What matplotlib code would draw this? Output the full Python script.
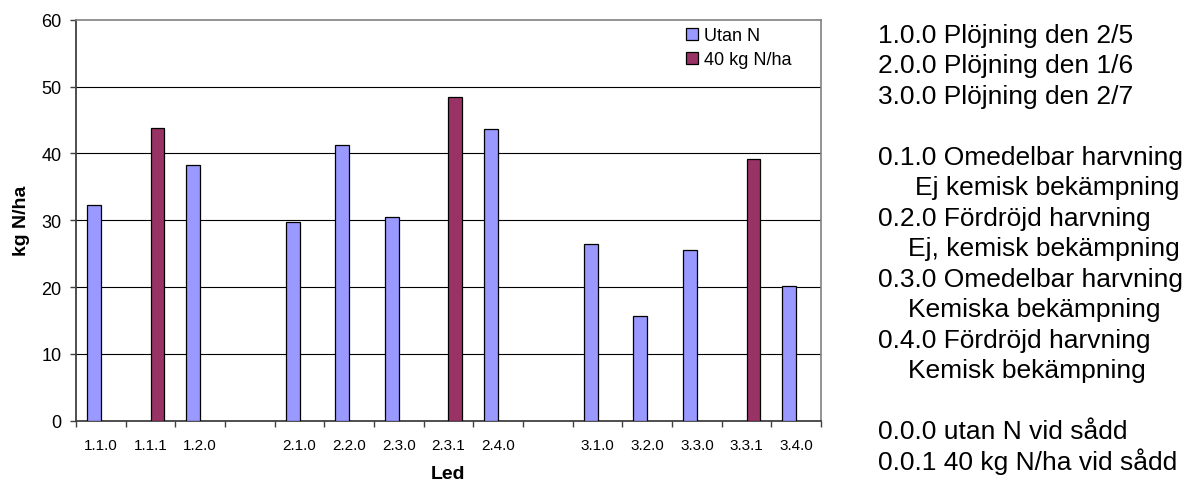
import numpy as np
import matplotlib
matplotlib.use("Agg")
import matplotlib.pyplot as plt
from matplotlib.patches import Patch

plt.rcParams['font.family'] = ['Liberation Sans', 'DejaVu Sans']

categories = ["1.1.0", "1.1.1", "1.2.0", "", "2.1.0", "2.2.0", "2.3.0", "2.3.1",
              "2.4.0", "", "3.1.0", "3.2.0", "3.3.0", "3.3.1", "3.4.0"]
utan_n = [32.3, np.nan, 38.2, np.nan, 29.8, 41.2, 30.5, np.nan,
          43.6, np.nan, 26.4, 15.6, 25.5, np.nan, 20.1]
med_n = [np.nan, 43.8, np.nan, np.nan, np.nan, np.nan, np.nan, 48.4,
         np.nan, np.nan, np.nan, np.nan, np.nan, 39.2, np.nan]
series_names = ["Utan N", "40 kg N/ha"]
y_ticks = [0, 10, 20, 30, 40, 50, 60]

side_text = [
    (0, 0, "1.0.0 Plöjning den 2/5"),
    (1, 0, "2.0.0 Plöjning den 1/6"),
    (2, 0, "3.0.0 Plöjning den 2/7"),
    (4, 0, "0.1.0 Omedelbar harvning"),
    (5, 37, "Ej kemisk bekämpning"),
    (6, 0, "0.2.0 Fördröjd harvning"),
    (7, 30, "Ej, kemisk bekämpning"),
    (8, 0, "0.3.0 Omedelbar harvning"),
    (9, 30, "Kemiska bekämpning"),
    (10, 0, "0.4.0 Fördröjd harvning"),
    (11, 30, "Kemisk bekämpning"),
    (13, 0, "0.0.0 utan N vid sådd"),
    (14, 0, "0.0.1 40 kg N/ha vid sådd"),
]

W, H = 1189, 481
fig = plt.figure(figsize=(W / 100, H / 100), dpi=100)
ax = fig.add_axes([76 / W, 1 - 421.7 / H, (821 - 76) / W, (421.7 - 20.7) / H])

c1 = "#9999FF"
c2 = "#993366"
x = np.arange(len(categories))
bw = 14 / 49.67
ax.bar(x - bw / 2, utan_n, width=bw, color=c1, edgecolor="black", linewidth=0.9, zorder=3)
ax.bar(x + bw / 2, med_n, width=bw, color=c2, edgecolor="black", linewidth=0.9, zorder=3)

ax.set_xlim(-0.5, len(categories) - 0.5)
ax.set_ylim(0, 60)
ax.set_yticks(y_ticks)
ax.set_yticklabels([str(v) for v in y_ticks], fontsize=13)
for v in y_ticks[1:-1]:
    ax.axhline(v, color="black", linewidth=0.8, zorder=1)

ax.set_xticks(np.arange(len(categories) + 1) - 0.5)
ax.set_xticklabels([])
ax.set_xticks(x, minor=True)
ax.set_xticklabels(categories, minor=True, fontsize=11)
ax.tick_params(axis="x", which="major", direction="out", length=4.5, width=1, color="#404040")
ax.tick_params(axis="x", which="minor", length=0, pad=12.5)
ax.tick_params(axis="y", direction="out", length=4.3, width=1, color="#404040", pad=6)

for s in ["top", "right"]:
    ax.spines[s].set_color("#808080")
    ax.spines[s].set_linewidth(1.2)
for s in ["left", "bottom"]:
    ax.spines[s].set_color("#404040")
    ax.spines[s].set_linewidth(1.3)

ax.set_ylabel("kg N/ha", fontsize=14, fontweight="bold", labelpad=8)
ax.set_xlabel("Led", fontsize=14, fontweight="bold", labelpad=9.5)

handles = [Patch(facecolor=c1, edgecolor="black", linewidth=0.9),
           Patch(facecolor=c2, edgecolor="black", linewidth=0.9)]
fig.legend(handles, series_names, loc="upper left",
           bbox_to_anchor=(686 / W, 1 - 28 / H), frameon=False, fontsize=13,
           handlelength=0.67, handleheight=0.67, handletextpad=0.3,
           labelspacing=0.4, borderpad=0, borderaxespad=0)

for i, dx, t in side_text:
    fig.text((878 + dx) / W, 1 - (42.7 + 30.5 * i) / H, t, fontsize=19,
             ha="left", va="baseline")

fig.savefig("out.png", dpi=100)
